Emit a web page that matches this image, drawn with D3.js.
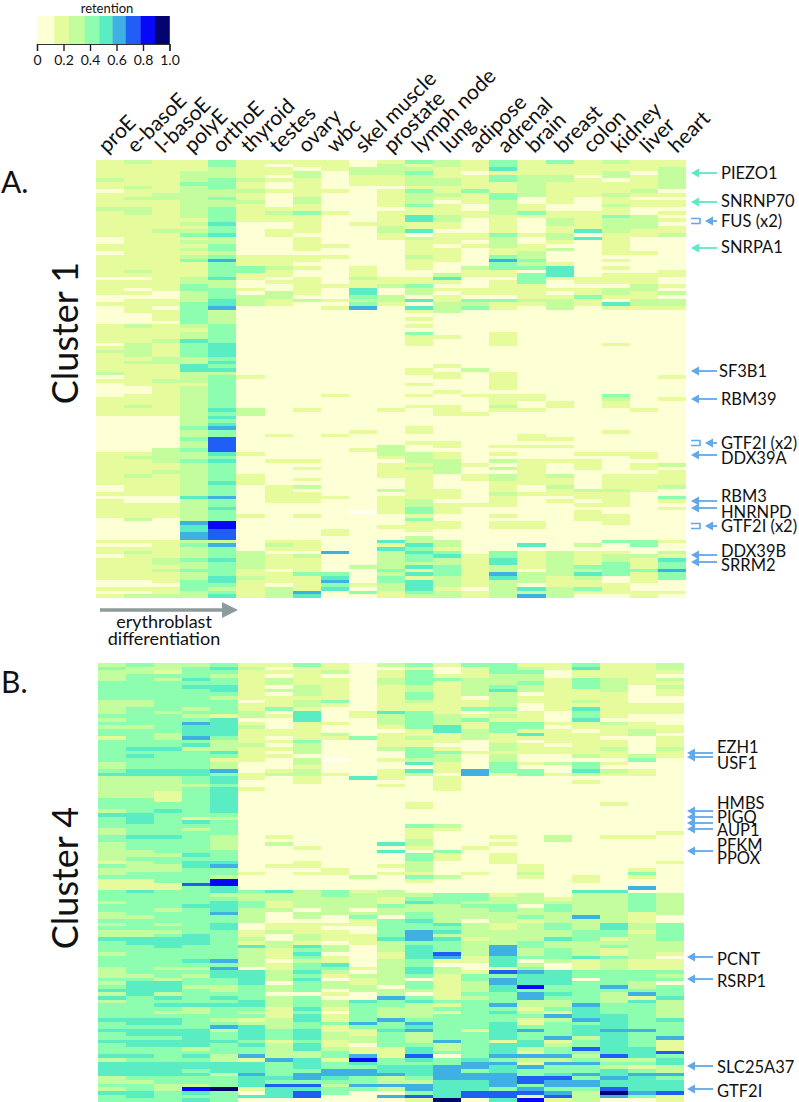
<!DOCTYPE html>
<html><head><meta charset="utf-8">
<script src="https://cdnjs.cloudflare.com/ajax/libs/d3/7.8.5/d3.min.js"></script>
<style>html,body{margin:0;padding:0;background:#fff}svg{display:block}text{font-family:Lato,"Open Sans",sans-serif;fill:#111}</style>
</head><body><svg id="c" width="799" height="1102"></svg>
<script>
const tissues = ["proE","e-basoE","l-basoE","polyE","orthoE","thyroid","testes","ovary","wbc","skel muscle","prostate","lymph node","lung","adipose","adrenal","brain","breast","colon","kidney","liver","heart"];
const binEdges = [0.13,0.24,0.36,0.47,0.57,0.67,0.78,0.89];
const binColors = ["#fdffd4","#e6fb9c","#c4fd9e","#8dfdb0","#5aedc4","#3fb0e2","#1f5ff5","#0808f8","#04046e"];
const binValues = [0.06,0.18,0.30,0.41,0.52,0.62,0.72,0.83,0.94];
const legendTicks = [0,0.2,0.4,0.6,0.8,1.0];
// one string per tissue, one character per gene row: retention bin ("-" = white cell)
const cluster1 = [
"1111121101 1112111111 1001101111 1101111001 0000011111 0121111120 1000011111 0000000000 1111111110 0101111100 0000101101 1111100101",
"2111111211 2112211111 1111111111 2101101011 1100021111 2222121111 1100111211 0000000000 1211112111 1100111120 0000101211 1111100102",
"1111111112 2111111112 1111111111 1111110011 0111011112 1111221111 2111111111 0000000002 2221121111 1100111100 0000111112 2121110112",
"1112223222 2222221212 3121212311 1122332223 3333321224 3333224422 2122222222 2223223223 2232222222 2242222225 4455232223 2232233322",
"3322233322 3223333433 4223323533 3342233344 5222233333 4444343423 3333333343 4345336666 4343333343 3353343337 7666253334 3333443234",
"1111121121 1211111000 0000001113 3110010222 0000000000 0000000001 0000000022 0000000000 1000001110 0000000100 0000000222 2211211111",
"1011010010 0001211001 1000001112 1101002211 0000000000 0000000000 0000000000 0000010000 0010000001 1111000000 0000121011 1101110222",
"1102211111 2211311111 0111101101 0011111020 0000000000 0000000000 0000000010 0000000000 0010100102 0111000100 0000111021 1113111154",
"1110000010 0000100000 0001001000 0000100010 1000000000 0000000000 0000100000 0000010000 0000000000 0010000000 0110000500 0003453400",
"0022111000 0000000100 0000000001 1121144323 5000000000 0000000000 0000000000 0000100001 0000000000 000000-000 0000000000 0200001030",
"1222111011 1110111122 1100000000 0011200221 0000000000 0000000000 0000000010 0000000022 2101111000 2011111000 1000414222 2232332211",
"3123222132 2231144114 0211112111 0011322040 4101010311 1000000110 0100100100 0001100100 2221211111 1112233131 1102243433 2414144432",
"2211122112 1011122110 1110111100 0241010112 2200000010 0000001011 0001000111 0000000110 1122220000 1110111001 1000221342 2333222122",
"1110111131 1100110000 1101000002 1100011032 3000000000 0000000200 0000100001 0000000000 0001001100 0000100000 0000000011 1111111011",
"3341331113 3222211111 3222113533 1101111031 1000000111 1000000011 1110111210 0000000010 1020202211 1211100101 1000000334 4225422222",
"1111222222 0011310000 1001122323 0333111121 0000000000 0000000000 0000110010 0000011010 0011111110 0100000001 1000040111 1102220425",
"3111221111 1100112211 2210200014 4410010122 2000000000 0000000000 0000001100 0000001010 0010002112 1101000000 0000000222 2222111222",
"1111011111 0000111114 0400000000 0011011311 0000000000 0000000000 0000000000 0000000000 1011100000 2110101110 0000020111 1324211310",
"2112201112 1121132222 1111110101 0111022104 1000000000 1000000000 0000321100 0000100000 1000001111 2111100111 0000300122 3333001110",
"1110111121 0110022221 1000010000 0111221122 1000000000 0000000000 0000000010 0000000000 1101101111 1000000000 0000330021 1131110011",
"1122222201 0110101011 2000000000 1100102022 1000000000 0000000001 0000010000 0000000000 0002011112 0031010000 0000100214 3353300010"
];
const cluster4 = [
"2322233333 2222323233 1333333223 4222222333 2433322332 2222132231 1133323322 3232243332 3332223234 2423333433 4334333424 4442232433",
"3223333333 2233333233 3334343334 4222222333 3444333433 3223222331 1143333332 3332244333 3333323444 4333333443 4434433434 4443233443",
"2213233333 3332333332 2334333334 4222211133 4333333433 3323322333 1133333233 3232344433 3332332444 2434323443 4434433334 4443322333",
"2333434333 3323235444 5342333334 4332333333 3314323333 3343443333 6333334333 3333444333 3432323323 3334223333 4444423434 4343327434",
"3432334432 3333144444 3222431225 3443444444 4323333222 2333453327 7442344453 3443333333 3535443322 3434333235 2334333224 4423338333",
"1211111111 0112201211 1121111000 1100100000 0000000000 0000000100 0032233222 2001121422 2220444433 3344323124 4443433514 4454441040",
"1010220201 1130100011 0101010001 2000000000 0000000102 0000010000 0042211200 0112002211 1011222022 0222111222 3331222253 3334364440",
"3111112221 2214441111 1322202212 2110000000 0000000000 1000110100 0022222022 0111221434 3233434333 0333434433 4443442244 4355364660",
"1120111111 3100001002 100000-000 1000000000 0000000000 0000001100 0033222220 0101110220 1143210220 1022101131 1221123313 3554323300",
"0000000000 0001100000 3000000000 0400000000 0000000000 0000000020 0012222023 1100111000 0001021122 0043333353 1122011574 3553353000",
"2011221111 1114222101 1112001001 1101000000 0000000004 0400010100 0022113220 3333342221 1222222202 2533222533 4333311133 4452252050",
"3133332233 2113333311 2113332404 2000000011 0000311122 1033222131 0002342233 4335553444 4334430332 0342222354 5222344643 4443255361",
"1001311111 1111222441 1101322111 0111100000 0000210000 0311000020 0003332222 2434243336 5102211111 1131313333 3335223033 5555444448",
"3111222220 1130131122 2000100005 5000000000 0000000000 1000000100 0003323222 0222212222 1100133222 3233333333 1333333345 5355444660",
"3332223422 2231213331 1122122333 1000000000 0000000101 0011100000 0001223322 2112222555 4441635544 3335343344 4441444535 4455553664",
"1232232201 1001113314 1011100103 3000000000 0000000000 0000011210 0002220223 1222223322 3023544473 5522123113 5334421521 5336635617",
"1100111111 1110001011 1101100200 1000000000 0000000220 0000000000 0000123322 2332242233 3200444433 4322315233 3351233525 3346553561",
"3411333111 2143341101 1111120334 2010000000 0000000000 0000000011 0042222225 2223332222 4111330333 3335444534 4423363235 3353553222",
"1111222211 1111102111 0112110102 1000000010 0000000100 0000000000 0042222222 2443312311 3222333353 2223334444 5444444623 2445446850",
"1111110000 0111001122 0000023001 1000000000 0000000100 0000001310 0503333311 1221222222 2111333223 5143333333 5333344423 1354444530",
"2210212110 0111000110 1112110000 0000000000 0000001000 0000100000 0002222220 0333332221 0111323033 3422222433 3351116344 2253444611"
];
const genes1 = ["PIEZO1","SNRNP70","FUS (x2)","SNRPA1","SF3B1","RBM39","GTF2I (x2)","DDX39A","RBM3","HNRNPD","GTF2I (x2)","DDX39B","SRRM2"];
const genes4 = ["EZH1","USF1","HMBS","PIGQ","AUP1","PFKM","PPOX","PCNT","RSRP1","SLC25A37","GTF2I"];

const svg = d3.select("#c");
const color = d3.scaleThreshold().domain(binEdges).range(binColors);

function heatmap(cols, x0, x1, y0, y1){
  const parsed = cols.map(s => Array.from(s.replace(/ /g,"")).map(ch => ch === "-" ? null : binValues[+ch]));
  const x = d3.scaleBand().domain(tissues).range([x0,x1]);
  const y = d3.scaleBand().domain(d3.range(parsed[0].length)).range([y0,y1]);
  const g = svg.append("g").attr("shape-rendering","crispEdges");
  tissues.forEach((t,i)=>{
    g.selectAll(null).data(parsed[i]).join("rect")
      .attr("x",x(t)).attr("width",x.bandwidth())
      .attr("y",(d,r)=>y(r)).attr("height",y.bandwidth()+0.4)
      .attr("fill",d=> d===null ? "#fffff2" : color(d));
  });
}
heatmap(cluster1,96,686,160,598);
heatmap(cluster4,98,684,663,1102);

// column labels
const labelX = d3.scalePoint().domain(tissues).range([107,677]);
svg.selectAll(null).data(tissues).join("text")
  .attr("transform",d=>`translate(${labelX(d)},154) rotate(-45)`)
  .attr("font-size",21).text(d=>d);

// legend
const lx = d3.scaleLinear().domain([0,1]).range([37,169.5]);
const stops = [0,...binEdges,1];
svg.append("g").selectAll("rect").data(binColors).join("rect")
  .attr("x",(d,i)=>lx(stops[i])).attr("width",(d,i)=>lx(stops[i+1])-lx(stops[i])+0.3)
  .attr("y",16).attr("height",28).attr("fill",d=>d);
const ax = svg.append("g").attr("transform","translate(0,44)")
  .call(d3.axisBottom(lx).tickValues(legendTicks).tickSize(7).tickFormat(d=> d===0 ? "0" : d3.format(".1f")(d)));
ax.select(".domain").attr("stroke","#333").attr("stroke-width",1.2);
ax.selectAll(".tick line").attr("stroke","#222").attr("stroke-width",1.4);
ax.selectAll("text").attr("font-size",14).attr("font-family","Lato").attr("y",11).attr("fill","#111");
svg.append("text").attr("x",107).attr("y",12.5).attr("text-anchor","middle").attr("font-size",13).text("retention");

// panel titles
svg.append("text").attr("x",1).attr("y",193).attr("font-size",30).text("A.");
svg.append("text").attr("x",1).attr("y",693).attr("font-size",30).text("B.");
const rot=(t,x,y)=>svg.append("text").attr("transform",`translate(${x},${y}) rotate(-90)`).attr("text-anchor","middle").attr("font-size",36).text(t);
rot("Cluster 1",78,333);
rot("Cluster 4",78,878);

// differentiation arrow
svg.append("line").attr("x1",100).attr("x2",224).attr("y1",610).attr("y2",610).attr("stroke","#8e9b9b").attr("stroke-width",3.5);
svg.append("path").attr("d",d3.line()([[222,602],[238,610],[222,618]])+"Z").attr("fill","#8e9b9b");
svg.append("text").attr("x",164).attr("y",628).attr("text-anchor","middle").attr("font-size",18).text("erythroblast");
svg.append("text").attr("x",164).attr("y",645).attr("text-anchor","middle").attr("font-size",18).text("differentiation");

const BLUE="#62a8ea", TEAL="#5ee8c4";
function arrow(xa,xb,y,c){
  svg.append("line").attr("x1",xa+6).attr("x2",xb).attr("y1",y).attr("y2",y).attr("stroke",c).attr("stroke-width",1.8);
  svg.append("path").attr("d",d3.line()([[xa,y],[xa+8,y-4.5],[xa+8,y+4.5]])+"Z").attr("fill",c);
}
function bracket(x,y){
  svg.append("path").attr("d",`M${x},${y-2.5}H${x+9}V${y+2.5}H${x}`).attr("fill","none").attr("stroke",BLUE).attr("stroke-width",1.6);
}
function label(t,x,y){svg.append("text").attr("x",x).attr("y",y).attr("dy","0.35em").attr("font-size",16.5).text(t);}

const a1 = [[173,TEAL,173],[202,TEAL,201],[221,BLUE,221,1],[248,TEAL,247],[371,BLUE,371],[399,BLUE,399],[443,BLUE,443,1],[455,BLUE,458],[501,BLUE,496],[508,BLUE,512],[526,BLUE,526,1],[555,BLUE,551],[562,BLUE,565]];
genes1.forEach((g,i)=>{
  const [ay,c,ty,br]=a1[i];
  if(br){bracket(691,ay);arrow(705,717,ay,c);} else arrow(691,717,ay,c);
  label(g,g==="SF3B1"?719:721,ty);
});
const a4 = [[753,747],[757,763],[811,803],[817,817],[829,830],[851,845],[null,858],[957,959],[979,981],[1066,1067],[1089,1091]];
genes4.forEach((g,i)=>{
  const [ay,ty]=a4[i];
  if(ay!==null) arrow(687,713,ay,BLUE);
  label(g,717,ty);
});
arrow(687,713,823,BLUE);
</script></body></html>
